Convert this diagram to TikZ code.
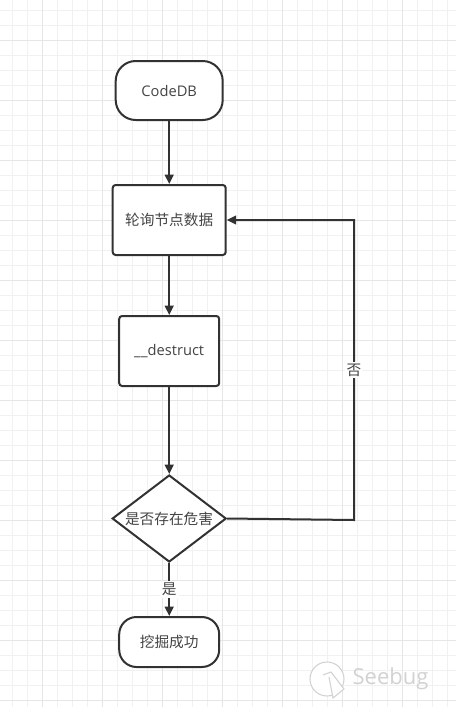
\documentclass[tikz,border=0pt]{standalone}
\usepackage{fontspec}
\setmainfont{Open Sans}
\newfontfamily\cjk{Noto Sans CJK SC}
\usetikzlibrary{arrows.meta,shapes.geometric}
\definecolor{ink}{HTML}{323232}
\definecolor{txt}{HTML}{444444}
\definecolor{gridminor}{HTML}{F1F1F1}
\definecolor{gridmajor}{HTML}{E6E6E6}
\definecolor{wm}{HTML}{D2D2D2}
\tikzset{
  flow/.style={draw=ink,line width=1.5pt,fill=white,text=txt,inner sep=0pt,font=\fontsize{11pt}{13pt}\selectfont},
  stepbox/.style={flow,rectangle,rounded corners=2.2pt},
  conn/.style={draw=ink,line width=1.5pt,-{Triangle[length=7pt,width=6.5pt]}},
  lab/.style={fill=white,text=txt,inner sep=1.5pt,font=\fontsize{11pt}{13pt}\selectfont\cjk},
}
\begin{document}
\begin{tikzpicture}[x=0.75pt,y=-0.75pt]
\useasboundingbox (0,0) rectangle (456,707);
\fill[white] (0,0) rectangle (456,707);
% grid
\foreach \i in {0,...,30} {
  \pgfmathsetmacro\gx{12.7+15*\i}
  \draw[gridminor,line width=0.75pt] (\gx,0) -- (\gx,707);
}
\foreach \i in {0,...,46} {
  \pgfmathsetmacro\gy{10+15*\i}
  \draw[gridminor,line width=0.75pt] (0,\gy) -- (456,\gy);
}
\foreach \i in {0,...,7} {
  \pgfmathsetmacro\gx{42.7+60*\i}
  \draw[gridmajor,line width=0.75pt] (\gx,0) -- (\gx,707);
}
\foreach \i in {0,...,11} {
  \pgfmathsetmacro\gy{40+60*\i}
  \draw[gridmajor,line width=0.75pt] (0,\gy) -- (456,\gy);
}
% watermark
\draw[wm,line width=0.8pt,fill=white] (327,679) circle[radius=12.75pt];
\draw[wm,line width=0.8pt,fill=white] (323,675) -- (331,672) -- (344,689) -- (333,698) -- (329,677);
\node[text=wm,font=\fontsize{16.5pt}{20pt}\selectfont] (wmark) at (390.5,679) {Seebug};
% nodes
\node[flow,rectangle,rounded corners=15pt,minimum width=80.25pt,minimum height=44.25pt] (a) at (169.2,90.5) {CodeDB};
\node[stepbox,minimum width=84.75pt,minimum height=52.5pt] (b) at (169.2,220) {\cjk 轮询节点数据};
\node[stepbox,minimum width=75pt,minimum height=52.5pt] (c) at (169.2,351) {\_\hspace{0.2pt}\_destruct};
\node[flow,diamond,aspect=1.31,minimum width=85.5pt,minimum height=65.25pt] (d) at (169.2,518.5) {};
\node[text=txt,inner sep=0pt,font=\fontsize{11pt}{13pt}\selectfont\cjk] (dt) at (169,518.5) {是否存在危害};
\node[flow,rectangle,rounded corners=13pt,minimum width=75pt,minimum height=37.5pt] (e) at (169.2,642) {\cjk 挖掘成功};
\coordinate (turnb) at (354,520);
\coordinate (turna) at (354,220);
% connectors
\draw[conn] (a) -- (b);
\draw[conn] (b) -- (c);
\draw[conn] (c) -- (d);
\draw[conn] (d.south) -- node[lab,pos=0.5] (yes) {是} (e.north);
\draw[conn] (d.east) -- (turnb) -- node[lab,pos=0.5] (no) {否} (turna) -- (b.east);
\end{tikzpicture}
\end{document}
